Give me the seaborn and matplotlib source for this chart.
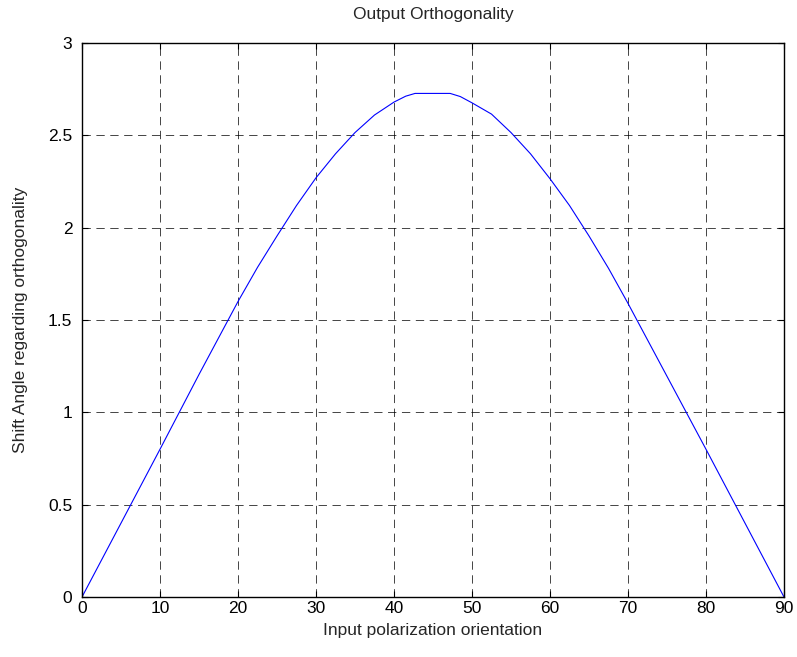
import matplotlib
matplotlib.use("Agg")
import matplotlib.pyplot as plt
import seaborn as sns
import pandas as pd

# Data
orientation = [0, 5, 10, 15, 20, 22.5, 25, 27.5, 30, 32.5, 35, 37.5, 40, 41.5, 42.7,
               47.2, 48.5, 50, 52.5, 55, 57.5, 60, 62.5, 65, 67.5, 70, 75, 80, 85, 90]
shift_angle = [0, 0.40, 0.80, 1.205, 1.60, 1.785, 1.955, 2.12, 2.27, 2.40, 2.515, 2.61, 2.68,
               2.712, 2.727, 2.727, 2.71, 2.676, 2.615, 2.515, 2.40, 2.265, 2.12, 1.955,
               1.78, 1.59, 1.195, 0.80, 0.40, 0]
x_ticks = [0, 10, 20, 30, 40, 50, 60, 70, 80, 90]
y_ticks = [0, 0.5, 1, 1.5, 2, 2.5, 3]
y_ticklabels = ["0", "0.5", "1", "1.5", "2", "2.5", "3"]

sns.set_style("white")
plt.rcParams['font.family'] = ['Liberation Sans', 'DejaVu Sans']
plt.rcParams['lines.scale_dashes'] = False

df = pd.DataFrame({"x": orientation, "y": shift_angle})

fig = plt.figure(figsize=(7.97, 6.57), dpi=100)
ax = fig.add_axes([82 / 797, 60 / 657, 702 / 797, 554 / 657])

sns.lineplot(data=df, x="x", y="y", ax=ax, color="#0000ff", linewidth=0.8,
             estimator=None, sort=False)

ax.set_xlim(0, 90)
ax.set_ylim(0, 3)
ax.set_xticks(x_ticks)
ax.set_xticklabels([str(t) for t in x_ticks])
ax.set_yticks(y_ticks)
ax.set_yticklabels(y_ticklabels)

ax.grid(True, color="black", linestyle=(0, (6, 4)), linewidth=0.6, alpha=0.85)
ax.set_axisbelow(True)

for s in ax.spines.values():
    s.set_visible(True)
    s.set_color("black")
    s.set_linewidth(1.0)

ax.tick_params(axis="both", direction="in", length=4, width=0.8, labelsize=12.5,
               top=True, right=True, bottom=True, left=True, colors="black")
ax.tick_params(axis="x", pad=3)
ax.tick_params(axis="y", pad=7)

ax.set_title("Output Orthogonality", fontsize=12.5, pad=17)
ax.set_xlabel("Input polarization orientation", fontsize=12.5, labelpad=5)
ax.set_ylabel("Shift Angle regarding orthogonality", fontsize=12.5, labelpad=14)

fig.savefig("out.png", dpi=100, facecolor="white")
